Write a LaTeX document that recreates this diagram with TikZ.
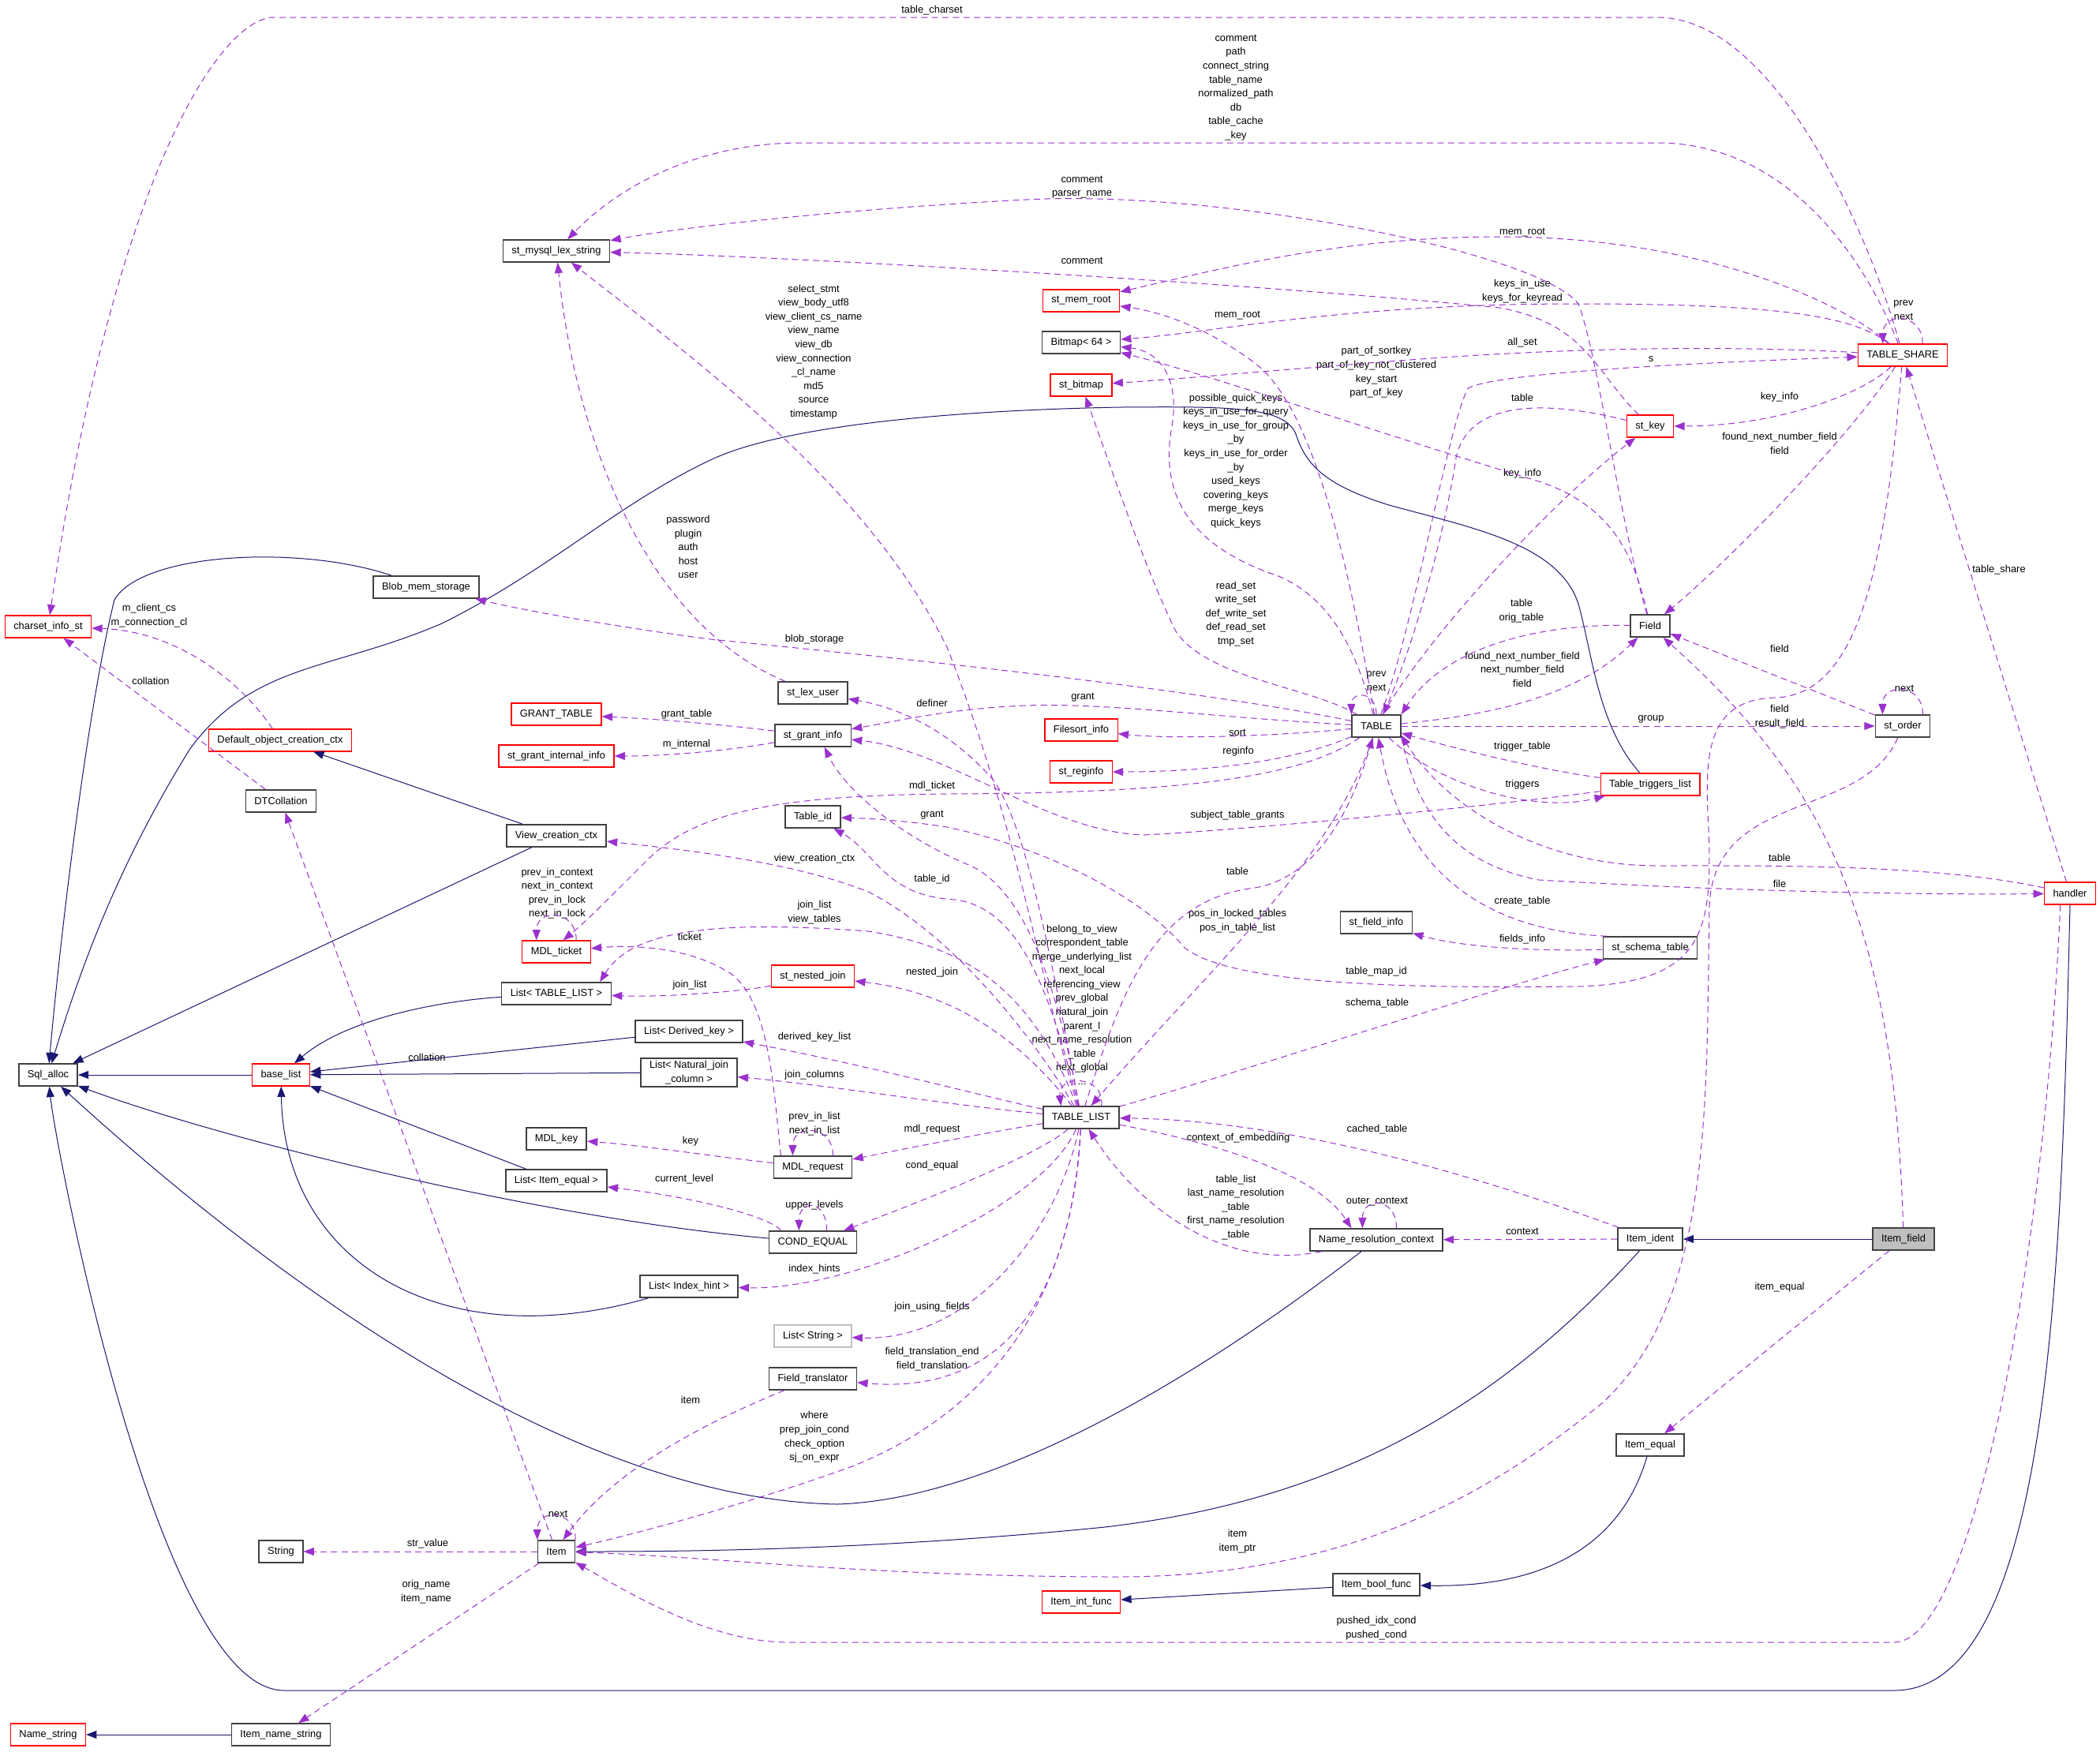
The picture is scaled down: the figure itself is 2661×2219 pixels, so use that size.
\documentclass[tikz,border=0pt]{standalone}
\usepackage{fontspec}
\setmainfont{Liberation Sans}
\usetikzlibrary{arrows.meta}
\definecolor{useline}{HTML}{9A32CD}
\definecolor{inhline}{HTML}{191970}
\definecolor{clsline}{HTML}{404040}
\definecolor{curfill}{HTML}{BFBFBF}
\newcommand{\dgfont}{\fontsize{11}{15}\selectfont}
\tikzset{
  cls/.style     = {rectangle, draw=clsline, line width=0.45mm, fill=white, font=\dgfont,
                    align=center, minimum height=8.4mm, inner xsep=3.3mm, inner ysep=1mm},
  redcls/.style  = {cls, draw=red, line width=0.35mm},
  greycls/.style = {cls, draw=curfill, line width=0.35mm},
  curcls/.style  = {cls, fill=curfill},
  lbl/.style     = {font=\dgfont, align=center, inner sep=0pt},
  inh/.style     = {draw=inhline, line width=0.3mm, -{Triangle[length=4mm, width=3mm]}},
  use/.style     = {draw=useline, line width=0.3mm, dash pattern=on 2.4mm off 1.6mm,
                    -{Triangle[length=4mm, width=3mm]}},
}
\begin{document}
\begin{tikzpicture}[x=0.3mm, y=-0.3mm]
  \path[use as bounding box, fill=white] (0,0) rectangle (2661,2219);
  % classes
  \node[cls]     (sqlalloc)  at (61,1362)   {Sql\_alloc};
  \node[redcls]  (charset)   at (61,794)    {charset\_info\_st};
  \node[redcls]  (namestr)   at (61,2198)   {Name\_string};
  \node[redcls]  (baselist)  at (356,1362)  {base\_list};
  \node[redcls]  (defctx)    at (355,938)   {Default\_object\_creation\_ctx};
  \node[cls]     (dtcoll)    at (356,1015)  {DTCollation};
  \node[cls]     (string)    at (356,1966)  {String};
  \node[cls]     (itemname)  at (356,2198)  {Item\_name\_string};
  \node[cls]     (blob)      at (540,744)   {Blob\_mem\_storage};
  \node[cls]     (lexstr)    at (705,318)   {st\_mysql\_lex\_string};
  \node[redcls]  (granttab)  at (705,905)   {GRANT\_TABLE};
  \node[redcls]  (grantint)  at (705,958)   {st\_grant\_internal\_info};
  \node[cls]     (viewctx)   at (705,1059)  {View\_creation\_ctx};
  \node[redcls]  (mdlticket) at (705,1206)  {MDL\_ticket};
  \node[cls]     (listtl)    at (705,1259)  {List< TABLE\_LIST >};
  \node[cls]     (mdlkey)    at (705,1443)  {MDL\_key};
  \node[cls]     (listeq)    at (705,1496)  {List< Item\_equal >};
  \node[cls]     (item)      at (705,1966)  {Item};
  \node[cls]     (listdk)    at (873,1307)  {List< Derived\_key >};
  \node[cls]     (listnj)    at (873,1359)  {List< Natural\_join\\\_column >};
  \node[cls]     (listih)    at (873,1630)  {List< Index\_hint >};
  \node[cls]     (lexuser)   at (1030,878)  {st\_lex\_user};
  \node[cls]     (grantinfo) at (1030,932)  {st\_grant\_info};
  \node[cls]     (tableid)   at (1030,1035) {Table\_id};
  \node[redcls]  (nested)    at (1030,1237) {st\_nested\_join};
  \node[cls]     (mdlreq)    at (1030,1479) {MDL\_request};
  \node[cls]     (condeq)    at (1030,1574) {COND\_EQUAL};
  \node[greycls] (liststr)   at (1030,1693) {List< String >};
  \node[cls]     (fieldtr)   at (1030,1747) {Field\_translator};
  \node[redcls]  (memroot)   at (1370,381)  {st\_mem\_root};
  \node[cls]     (bitmap)    at (1370,434)  {Bitmap< 64 >};
  \node[redcls]  (stbitmap)  at (1370,488)  {st\_bitmap};
  \node[redcls]  (filesort)  at (1370,925)  {Filesort\_info};
  \node[redcls]  (reginfo)   at (1370,978)  {st\_reginfo};
  \node[cls]     (tablelist) at (1370,1416) {TABLE\_LIST};
  \node[redcls]  (intfunc)   at (1370,2030) {Item\_int\_func};
  \node[cls]     (tbl)       at (1744,920)  {TABLE};
  \node[cls]     (fieldinfo) at (1744,1169) {st\_field\_info};
  \node[cls]     (nrc)       at (1744,1571) {Name\_resolution\_context};
  \node[cls]     (boolfunc)  at (1744,2008) {Item\_bool\_func};
  \node[redcls]  (stkey)     at (2091,540)  {st\_key};
  \node[cls]     (field)     at (2091,793)  {Field};
  \node[redcls]  (triggers)  at (2091,994)  {Table\_triggers\_list};
  \node[cls]     (schema)    at (2091,1201) {st\_schema\_table};
  \node[cls]     (ident)     at (2091,1570) {Item\_ident};
  \node[cls]     (itemeq)    at (2091,1831) {Item\_equal};
  \node[redcls]  (share)     at (2411,450)  {TABLE\_SHARE};
  \node[cls]     (order)     at (2411,920)  {st\_order};
  \node[curcls]  (itemfield) at (2412,1570) {Item\_field};
  \node[redcls]  (handler)   at (2623,1132) {handler};
  % member names
  \foreach \lx/\ly/\lt [count=\i] in {
    1181/13/{table\_charset},
    1566/111/{comment\\path\\connect\_string\\table\_name\\normalized\_path\\db\\table\_cache\\\_key},
    1371/237/{comment\\parser\_name},
    1371/330/{comment},
    1929/295/{mem\_root},
    1568/400/{mem\_root},
    1929/369/{keys\_in\_use\\keys\_for\_keyread},
    1929/434/{all\_set},
    2092/455/{s},
    2412/393/{prev\\next},
    1744/472/{part\_of\_sortkey\\part\_of\_key\_not\_clustered\\key\_start\\part\_of\_key},
    1031/446/{select\_stmt\\view\_body\_utf8\\view\_client\_cs\_name\\view\_name\\view\_db\\view\_connection\\\_cl\_name\\md5\\source\\timestamp},
    1566/584/{possible\_quick\_keys\\keys\_in\_use\_for\_query\\keys\_in\_use\_for\_group\\\_by\\keys\_in\_use\_for\_order\\\_by\\used\_keys\\covering\_keys\\merge\_keys\\quick\_keys},
    1929/504/{table},
    2255/503/{key\_info},
    2255/562/{found\_next\_number\_field\\field},
    1929/600/{key\_info},
    872/693/{password\\plugin\\auth\\host\\user},
    189/780/{m\_client\_cs\\m\_connection\_cl},
    191/863/{collation},
    1566/778/{read\_set\\write\_set\\def\_write\_set\\def\_read\_set\\tmp\_set},
    2533/722/{table\_share},
    1928/774/{table\\orig\_table},
    1032/810/{blob\_storage},
    1929/848/{found\_next\_number\_field\\next\_number\_field\\field},
    2255/822/{field},
    1744/863/{prev\\next},
    2413/872/{next},
    1372/884/{grant},
    1181/891/{definer},
    870/905/{grant\_table},
    2255/908/{field\\result\_field},
    2092/911/{group},
    1568/928/{sort},
    870/943/{m\_internal},
    1929/946/{trigger\_table},
    1569/952/{reginfo},
    1929/994/{triggers},
    1181/996/{mdl\_ticket},
    1568/1033/{subject\_table\_grants},
    1181/1033/{grant},
    2255/1087/{table},
    1032/1088/{view\_creation\_ctx},
    1568/1104/{table},
    1181/1114/{table\_id},
    2255/1120/{file},
    706/1132/{prev\_in\_context\\next\_in\_context\\prev\_in\_lock\\next\_in\_lock},
    1929/1142/{create\_table},
    1032/1156/{join\_list\\view\_tables},
    1568/1167/{pos\_in\_locked\_tables\\pos\_in\_table\_list},
    874/1187/{ticket},
    1929/1190/{fields\_info},
    1371/1273/{belong\_to\_view\\correspondent\_table\\merge\_underlying\_list\\next\_local\\referencing\_view\\prev\_global\\natural\_join\\parent\_l\\next\_name\_resolution\\\_table\\next\_global\\...},
    1744/1231/{table\_map\_id},
    1181/1232/{nested\_join},
    874/1248/{join\_list},
    1745/1271/{schema\_table},
    1032/1314/{derived\_key\_list},
    541/1340/{collation},
    1032/1362/{join\_columns},
    1032/1424/{prev\_in\_list\\next\_in\_list},
    1181/1431/{mdl\_request},
    1745/1431/{cached\_table},
    1569/1442/{context\_of\_embedding},
    875/1446/{key},
    1181/1477/{cond\_equal},
    867/1494/{current\_level},
    1566/1530/{table\_list\\last\_name\_resolution\\\_table\\first\_name\_resolution\\\_table},
    1032/1527/{upper\_levels},
    1745/1523/{outer\_context},
    1929/1560/{context},
    1032/1608/{index\_hints},
    2255/1631/{item\_equal},
    1181/1656/{join\_using\_fields},
    1181/1722/{field\_translation\_end\\field\_translation},
    875/1774/{item},
    1032/1821/{where\\prep\_join\_cond\\check\_option\\sj\_on\_expr},
    707/1918/{next},
    1568/1953/{item\\item\_ptr},
    542/1956/{str\_value},
    540/2017/{orig\_name\\item\_name},
    1744/2063/{pushed\_idx\_cond\\pushed\_cond}}
    \node[lbl] (lab\i) at (\lx,\ly) {\lt};
  % inheritance
  \draw[inh] (blob) .. controls (380,690) and (180,700) .. (145,760) .. controls (110,900) and (75,1200) .. (sqlalloc);
  \draw[inh] (triggers) .. controls (2025,920) and (2018,830) .. (2000,765) .. controls (1975,690) and (1870,670) .. (1760,640)
    .. controls (1680,615) and (1655,590) .. (1642,550) .. controls (1628,515) and (1560,515) .. (1420,516)
    .. controls (1200,520) and (990,540) .. (900,583) .. controls (780,640) and (700,720) .. (560,790)
    .. controls (420,850) and (320,840) .. (240,950) .. controls (160,1080) and (110,1200) .. (sqlalloc);
  \draw[inh] (viewctx) -- (defctx);
  \draw[inh] (viewctx) -- (sqlalloc);
  \draw[inh] (listtl) .. controls (560,1268) and (440,1290) .. (baselist);
  \draw[inh] (listdk) -- (baselist);
  \draw[inh] (listnj) -- (baselist);
  \draw[inh] (baselist) -- (sqlalloc);
  \draw[inh] (listeq) -- (baselist);
  \draw[inh] (listih) .. controls (560,1720) and (360,1600) .. (baselist);
  \draw[inh] (condeq) .. controls (700,1545) and (300,1450) .. (sqlalloc);
  \draw[inh] (nrc) .. controls (1500,1760) and (1250,1900) .. (1061,1906) .. controls (700,1900) and (300,1580) .. (sqlalloc);
  \draw[inh] (handler.south) .. controls (2612,1600) and (2600,2142) .. (2400,2142) -- (360,2142)
    .. controls (200,2142) and (70,1450) .. (sqlalloc);
  \draw[inh] (ident) .. controls (1900,1780) and (1700,1900) .. (1400,1935) .. controls (1100,1965) and (850,1966) .. (item);
  \draw[inh] (itemfield) -- (ident);
  \draw[inh] (itemeq) .. controls (2060,1940) and (1980,2012) .. (boolfunc);
  \draw[inh] (boolfunc) -- (intfunc);
  \draw[inh] (itemname) -- (namestr);
  % TABLE_SHARE
  \draw[use] (share) .. controls (2370,300) and (2250,22) .. (2100,22) -- (344,22) .. controls (270,30) and (140,250) .. (charset);
  \draw[use] (share) .. controls (2360,320) and (2260,181) .. (2100,181) -- (1015,181) .. controls (880,181) and (780,240) .. (lexstr);
  \draw[use] (share) .. controls (2330,380) and (2150,300) .. (1900,300) .. controls (1700,300) and (1550,340) .. (memroot);
  \draw[use] (share) .. controls (2350,400) and (2250,385) .. (2000,385) .. controls (1700,385) and (1550,420) .. (bitmap);
  \draw[use] (share) .. controls (2200,438) and (2000,440) .. (1800,455) .. controls (1650,466) and (1500,480) .. (stbitmap);
  \draw[use] (share.30) .. controls +(0,-40) and +(0,-40) .. (share.150);
  \draw[use] (share) .. controls (2360,500) and (2250,540) .. (stkey);
  \draw[use] (share) .. controls (2340,560) and (2180,720) .. (field);
  \draw[use] (share) .. controls (2390,700) and (2360,880) .. (2250,884) .. controls (2160,886) and (2160,960) .. (2165,1050)
    .. controls (2170,1180) and (2160,1245) .. (2000,1250) .. controls (1800,1252) and (1560,1250) .. (1500,1200)
    .. controls (1460,1150) and (1350,1080) .. (1200,1048) .. controls (1150,1040) and (1100,1037) .. (tableid);
  % handler
  \draw[use] (handler) -- (share);
  \draw[use] (handler) .. controls (2450,1095) and (2250,1097) .. (2100,1097) .. controls (1950,1097) and (1830,1020) .. (tbl.-20);
  \draw[use] (handler.-130) .. controls (2590,1600) and (2500,2081) .. (2400,2081) -- (1000,2081)
    .. controls (900,2081) and (800,2020) .. (item);
  % TABLE
  \draw[use] (tbl) .. controls (1790,800) and (1835,540) .. (1860,492) .. controls (1900,470) and (2200,458) .. (share);
  \draw[use] (tbl) .. controls (1800,820) and (1950,650) .. (stkey);
  \draw[use] (stkey) .. controls (1950,505) and (1860,510) .. (1845,580) .. controls (1830,680) and (1790,820) .. (tbl.60);
  \draw[use] (tbl) .. controls (1900,905) and (2000,880) .. (field);
  \draw[use] (field) .. controls (1950,790) and (1830,820) .. (tbl.north east);
  \draw[use] (order) -- (field);
  \draw[use] (tbl) -- (order);
  \draw[use] (order.30) .. controls +(0,-40) and +(0,-40) .. (order.150);
  \draw[use] (itemfield) .. controls (2400,1150) and (2300,980) .. (field);
  \draw[use] (order) .. controls (2360,1040) and (2170,1000) .. (2166,1150) .. controls (2162,1400) and (2170,1650) .. (2030,1778)
    .. controls (1880,1900) and (1700,1998) .. (1416,1998) .. controls (1100,1998) and (900,1972) .. (item);
  \draw[use] (tbl.south east) .. controls (1790,1000) and (1820,1090) .. (1950,1115) .. controls (2200,1130) and (2450,1134) .. (handler);
  \draw[use] (triggers) .. controls (1950,975) and (1850,950) .. (tbl);
  \draw[use] (tbl) .. controls (1830,1000) and (1950,1030) .. (triggers);
  \draw[use] (triggers) .. controls (1900,1020) and (1600,1050) .. (1450,1058) .. controls (1330,1055) and (1200,950) .. (grantinfo);
  \draw[use] (tbl) .. controls (1550,910) and (1400,890) .. (1300,894) .. controls (1200,898) and (1130,915) .. (grantinfo);
  \draw[use] (tbl) .. controls (1500,870) and (1100,830) .. (900,810) .. controls (750,790) and (650,770) .. (blob);
  \draw[use] (tbl) .. controls (1650,930) and (1500,938) .. (filesort);
  \draw[use] (tbl) .. controls (1650,960) and (1550,978) .. (reginfo);
  \draw[use] (tbl) .. controls (1650,985) and (1500,1005) .. (1200,1006) .. controls (980,1008) and (880,1030) .. (820,1090)
    .. controls (770,1140) and (740,1170) .. (mdlticket.60);
  \draw[use] (tbl.north) .. controls +(0,-30) and +(0,-30) .. (tbl.north west);
  \draw[use] (tbl) .. controls (1715,750) and (1670,520) .. (1590,460) .. controls (1530,415) and (1470,395) .. (memroot);
  \draw[use] (tbl) .. controls (1720,830) and (1690,760) .. (1620,730) .. controls (1500,690) and (1470,620) .. (1485,540)
    .. controls (1495,480) and (1470,445) .. (bitmap);
  \draw[use] (tbl) .. controls (1660,870) and (1530,860) .. (1490,800) .. controls (1450,720) and (1400,570) .. (stbitmap);
  % Field, st_key
  \draw[use] (field) .. controls (2050,650) and (2025,450) .. (2000,385) .. controls (1950,320) and (1550,240) .. (1300,253)
    .. controls (1050,266) and (850,290) .. (lexstr);
  \draw[use] (field) .. controls (2070,700) and (2040,640) .. (1950,610) .. controls (1750,550) and (1550,480) .. (bitmap);
  \draw[use] (stkey) .. controls (2020,470) and (2010,410) .. (1900,390) .. controls (1600,360) and (1000,325) .. (lexstr);
  % st_mysql_lex_string, charset_info_st
  \draw[use] (lexuser) .. controls (820,790) and (730,560) .. (lexstr);
  \draw[use] (tablelist) .. controls (1320,1250) and (1290,1050) .. (1200,820) .. controls (1100,620) and (900,470) .. (lexstr);
  \draw[use] (defctx) .. controls (310,870) and (230,800) .. (charset);
  \draw[use] (dtcoll) -- (charset);
  % TABLE_LIST
  \draw[use] (tablelist) .. controls (1330,1200) and (1300,1050) .. (1260,990) .. controls (1200,920) and (1130,895) .. (lexuser);
  \draw[use] (tablelist) .. controls (1340,1250) and (1300,1130) .. (1230,1097) .. controls (1140,1060) and (1070,1000) .. (grantinfo.-45);
  \draw[use] (tablelist) .. controls (1330,1250) and (1290,1150) .. (1210,1140) .. controls (1120,1135) and (1110,1080) .. (tableid);
  \draw[use] (tablelist) .. controls (1300,1300) and (1200,1180) .. (1100,1130) .. controls (1000,1090) and (850,1075) .. (viewctx);
  \draw[use] (tablelist) .. controls (1310,1260) and (1230,1200) .. (1100,1180) .. controls (900,1165) and (800,1180) .. (listtl.15);
  \draw[use] (nested) .. controls (950,1255) and (850,1264) .. (listtl);
  \draw[use] (tablelist) .. controls (1310,1340) and (1230,1260) .. (nested);
  \draw[use] (tablelist) .. controls (1250,1390) and (1100,1350) .. (listdk);
  \draw[use] (tablelist) .. controls (1200,1400) and (1050,1375) .. (listnj);
  \draw[use] (tablelist) .. controls (1250,1435) and (1150,1455) .. (mdlreq);
  \draw[use] (tablelist) .. controls (1320,1460) and (1200,1510) .. (condeq);
  \draw[use] (tablelist) .. controls (1320,1530) and (1080,1635) .. (listih);
  \draw[use] (tablelist) .. controls (1340,1560) and (1230,1700) .. (liststr);
  \draw[use] (tablelist) .. controls (1360,1600) and (1300,1770) .. (fieldtr);
  \draw[use] (tablelist) .. controls (1360,1650) and (1250,1790) .. (1080,1858) .. controls (950,1905) and (800,1945) .. (item);
  \draw[use] (tablelist.30) .. controls +(5,-40) and +(-5,-40) .. (tablelist.150);
  \draw[use] (nrc) .. controls (1560,1610) and (1450,1540) .. (tablelist);
  \draw[use] (tablelist) .. controls (1550,1450) and (1670,1490) .. (nrc.155);
  \draw[use] (nrc.30) .. controls +(0,-40) and +(0,-40) .. (nrc.140);
  \draw[use] (ident) .. controls (1900,1500) and (1650,1420) .. (tablelist);
  \draw[use] (ident) -- (nrc);
  \draw[use] (itemfield) -- (itemeq);
  \draw[use] (tablelist) .. controls (1600,1350) and (1900,1250) .. (schema);
  \draw[use] (schema) .. controls (1950,1206) and (1850,1200) .. (fieldinfo);
  \draw[use] (schema.165) .. controls (1900,1180) and (1780,1120) .. (tbl);
  \draw[use] (tablelist) .. controls (1420,1260) and (1460,1140) .. (1590,1125) .. controls (1680,1110) and (1720,1000) .. (tbl);
  \draw[use] (tbl) .. controls (1690,1090) and (1520,1240) .. (tablelist);
  % MDL, COND_EQUAL
  \draw[use] (mdlreq.160) .. controls (980,1380) and (975,1260) .. (920,1230) .. controls (870,1200) and (800,1197) .. (mdlticket);
  \draw[use] (mdlreq.30) .. controls +(0,-40) and +(0,-40) .. (mdlreq.150);
  \draw[use] (mdlticket.30) .. controls +(0,-40) and +(0,-40) .. (mdlticket.150);
  \draw[use] (mdlreq) .. controls (900,1465) and (820,1452) .. (mdlkey);
  \draw[use] (condeq.160) .. controls (980,1545) and (900,1520) .. (listeq);
  \draw[use] (condeq.40) .. controls +(0,-40) and +(0,-40) .. (condeq.140);
  % st_grant_info
  \draw[use] (grantinfo) .. controls (930,920) and (850,912) .. (granttab);
  \draw[use] (grantinfo) .. controls (930,950) and (850,958) .. (grantint);
  % Item
  \draw[use] (fieldtr) .. controls (900,1800) and (780,1860) .. (item.60);
  \draw[use] (item.north east) .. controls +(0,-40) and +(0,-40) .. (item.north west);
  \draw[use] (item) -- (string);
  \draw[use] (item) -- (itemname);
  \draw[use] (item) -- (dtcoll);
\end{tikzpicture}
\end{document}
